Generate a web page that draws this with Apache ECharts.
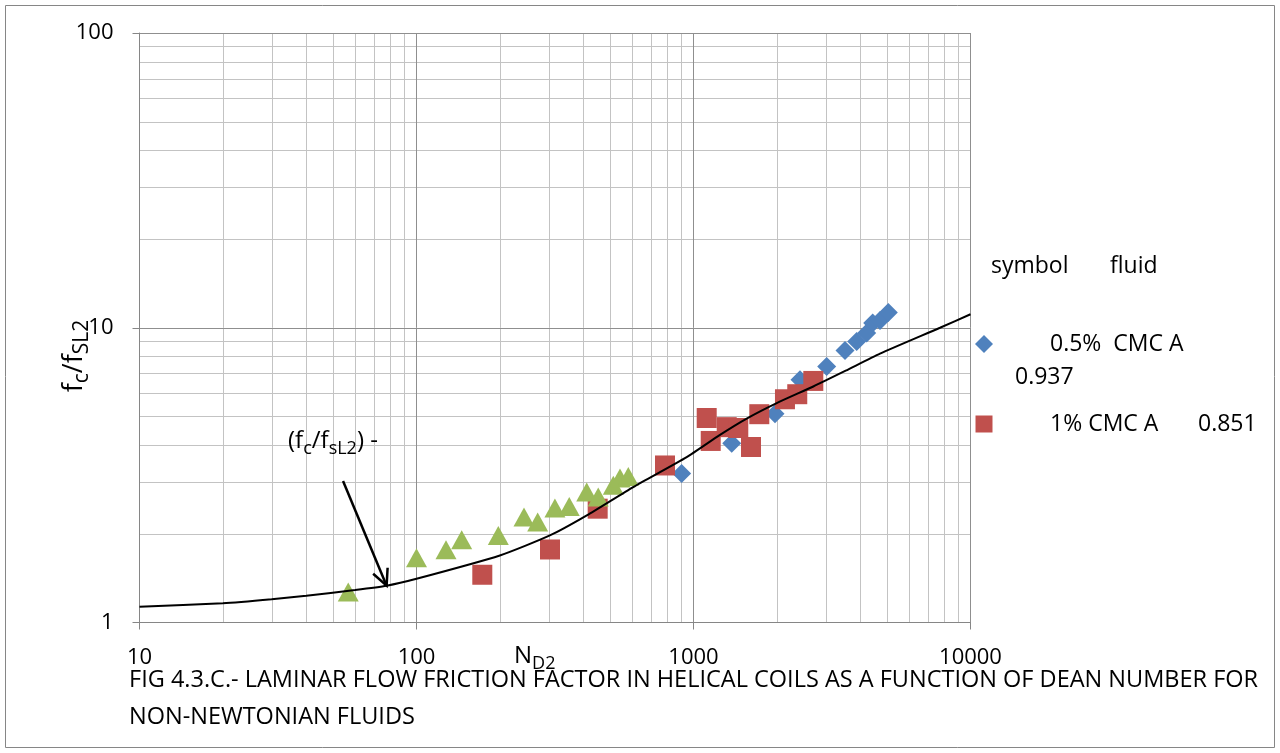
<!DOCTYPE html>
<html><head><meta charset="utf-8">
<script src="https://cdn.jsdelivr.net/npm/echarts@6/dist/echarts.min.js"></script>
<style>html,body{margin:0;padding:0;background:#fff}#c{width:1280px;height:753px}</style>
</head><body><div id="c"></div>
<script>
// ---- data ----
const xTickValues = [10, 100, 1000, 10000];
const yTickValues = [1, 10, 100];

// 0.5% CMC A (blue diamonds)
const cmc05X = [906, 1374, 1969, 2424, 3026, 3523, 3883, 4220, 4436, 4713, 5051];
const cmc05Y = [3.2, 4.06, 5.11, 6.66, 7.39, 8.37, 8.98, 9.60, 10.37, 10.59, 11.27];

// 1% CMC A (red squares)
const cmc1X = [172.8, 303.4, 450.9, 789, 1116, 1154, 1318, 1451, 1613, 1728, 2139, 2369, 2707];
const cmc1Y = [1.452, 1.769, 2.433, 3.41, 4.94, 4.13, 4.60, 4.57, 3.94, 5.09, 5.72, 5.95, 6.60];

// third fluid (green triangles)
const triX = [56.7, 100, 127.8, 145.6, 197.4, 244.4, 273.8, 316, 356, 411.6, 453, 513.5, 542.8, 581.6];
const triY = [1.27, 1.659, 1.765, 1.909, 1.974, 2.279, 2.191, 2.445, 2.477, 2.771, 2.664, 2.919, 3.095, 3.13];

// correlation curve (f_c/f_sL2)
const curveX = [10, 20, 30, 40, 60, 78, 100, 200, 303, 412, 606, 945, 1246, 1556, 1997, 2707, 3543, 4713, 7760, 10000];
const curveY = [1.132, 1.162, 1.199, 1.233, 1.289, 1.333, 1.407, 1.688, 1.974, 2.309, 2.881, 3.64, 4.33, 4.918, 5.55, 6.32, 7.15, 8.17, 10.0, 11.11];

// annotation arrow (data coords): from label to curve
const arrowFrom = [54.3, 3.02];
const arrowTo = [78, 1.333];

const titleLines = ['FIG 4.3.C.- LAMINAR FLOW FRICTION FACTOR IN HELICAL COILS AS A FUNCTION OF DEAN NUMBER FOR', 'NON-NEWTONIAN FLUIDS'];
const legendHeader = ['symbol', 'fluid'];
const legendA = ['0.5%  CMC A', '0.937'];
const legendB = ['1% CMC A', '0.851'];

const zip = (a, b) => a.map((v, i) => [v, b[i]]);
const FONT = '"Open Sans", sans-serif';
const AX = '#868686';

const chart = echarts.init(document.getElementById('c'), null, {renderer: 'canvas'});

const axisCommon = {
  type: 'log', logBase: 10,
  axisLine: {show: true, lineStyle: {color: AX, width: 1}},
  axisTick: {show: true, inside: false, length: 7, lineStyle: {color: AX}},
  splitLine: {show: true, lineStyle: {color: '#8f8f8f', width: 1}},
  minorTick: {show: false},
  minorSplitLine: {show: false},
  axisLabel: {color: '#000', fontSize: 22, fontFamily: FONT, formatter: v => String(Math.round(v))}
};

chart.setOption({
  animation: false,
  backgroundColor: '#fff',
  grid: {left: 139.5, right: 309.5, top: 33, bottom: 130.5, containLabel: false},
  xAxis: Object.assign({}, axisCommon, {min: 10, max: 10000,
    axisLabel: Object.assign({}, axisCommon.axisLabel, {margin: 24})}),
  yAxis: Object.assign({}, axisCommon, {min: 1, max: 100,
    axisLabel: Object.assign({}, axisCommon.axisLabel, {margin: 26})}),
  series: [
    {type: 'scatter', name: '0.5% CMC A', data: zip(cmc05X, cmc05Y), symbol: 'diamond', symbolSize: 19,
     itemStyle: {color: '#4F81BD', opacity: 1}, z: 2},
    {type: 'scatter', name: '1% CMC A', data: zip(cmc1X, cmc1Y), symbol: 'rect', symbolSize: 20,
     itemStyle: {color: '#C0504D', opacity: 1}, z: 3},
    {type: 'scatter', name: 'tri', data: zip(triX, triY), symbol: 'triangle', symbolSize: [21, 19],
     itemStyle: {color: '#9BBB59', opacity: 1}, z: 4},
    {type: 'line', name: 'curve', data: zip(curveX, curveY), smooth: 0.2, showSymbol: false, symbol: 'none',
     lineStyle: {color: '#000', width: 2}, z: 5}
  ]
});

function build() {
  const g = [];
  g.push({type: 'rect', shape: {x: 5.5, y: 5.5, width: 1269, height: 742}, style: {fill: null, stroke: AX, lineWidth: 1}, z: 0, silent: true});
  // minor log grid lines
  const p0 = chart.convertToPixel({gridIndex: 0}, [10, 1]);
  const p1 = chart.convertToPixel({gridIndex: 0}, [10000, 100]);
  for (let d = 0; d < xTickValues.length - 1; d++) {
    for (let m = 2; m <= 9; m++) {
      const px = chart.convertToPixel({gridIndex: 0}, [xTickValues[d] * m, 1])[0];
      g.push({type: 'line', shape: {x1: Math.round(px) + 0.5, y1: p1[1], x2: Math.round(px) + 0.5, y2: p0[1]},
        style: {stroke: '#c3c3c3', lineWidth: 1}, z: -1, silent: true});
    }
  }
  for (let d = 0; d < yTickValues.length - 1; d++) {
    for (let m = 2; m <= 9; m++) {
      const py = chart.convertToPixel({gridIndex: 0}, [10, yTickValues[d] * m])[1];
      g.push({type: 'line', shape: {x1: p0[0], y1: Math.round(py) + 0.5, x2: p1[0], y2: Math.round(py) + 0.5},
        style: {stroke: '#c3c3c3', lineWidth: 1}, z: -1, silent: true});
    }
  }
  // arrow
  const a = chart.convertToPixel({gridIndex: 0}, arrowFrom);
  const b = chart.convertToPixel({gridIndex: 0}, arrowTo);
  g.push({type: 'line', shape: {x1: a[0], y1: a[1], x2: b[0], y2: b[1]}, style: {stroke: '#000', lineWidth: 2.5}, z: 10});
  const ang = Math.atan2(b[1] - a[1], b[0] - a[0]);
  const L = 18, spread = 0.45;
  g.push({type: 'polyline', shape: {points: [
    [b[0] - L * Math.cos(ang - spread), b[1] - L * Math.sin(ang - spread)],
    [b[0], b[1]],
    [b[0] - L * Math.cos(ang + spread), b[1] - L * Math.sin(ang + spread)]
  ]}, style: {stroke: '#000', lineWidth: 2.5, fill: null}, z: 10});
  const mkRich = (n, s, lh) => ({
    n: {fontSize: n, fontFamily: FONT, color: '#000', lineHeight: lh, verticalAlign: 'middle'},
    s: {fontSize: s, fontFamily: FONT, color: '#000', lineHeight: lh, verticalAlign: 'bottom'}
  });
  // annotation label
  g.push({type: 'text', x: 288, y: 441, z: 10,
    style: {text: '{n|(f}{s|c}{n|/f}{s|sL2}{n|) -}', rich: mkRich(24, 18, 34), verticalAlign: 'middle', align: 'left'}});
  // y axis name
  g.push({type: 'text', x: 74, y: 356, rotation: Math.PI / 2, z: 10,
    style: {text: '{n|f}{s|c}{n|/f}{s|SL2}', rich: mkRich(27, 21, 38), align: 'center', verticalAlign: 'middle'}});
  // x axis name
  g.push({type: 'text', x: 514, y: 656, z: 10,
    style: {text: '{n|N}{s|D2}', rich: mkRich(24, 18, 34), align: 'left', verticalAlign: 'middle'}});
  // title
  const tt = {fontSize: 23.5, fontFamily: FONT, fill: '#000', align: 'left', verticalAlign: 'middle'};
  g.push({type: 'text', x: 129, y: 680, z: 10, style: Object.assign({text: titleLines[0]}, tt)});
  g.push({type: 'text', x: 129, y: 717, z: 10, style: Object.assign({text: titleLines[1]}, tt)});
  // legend
  const lt = {fontSize: 23, fontFamily: FONT, fill: '#000', verticalAlign: 'middle', align: 'left'};
  g.push({type: 'text', x: 991, y: 266, style: Object.assign({text: legendHeader[0]}, lt)});
  g.push({type: 'text', x: 1110, y: 266, style: Object.assign({text: legendHeader[1]}, lt)});
  g.push({type: 'polygon', shape: {points: [[984, 335], [993, 344], [984, 353], [975, 344]]}, style: {fill: '#4F81BD'}});
  g.push({type: 'text', x: 1050, y: 344, style: Object.assign({text: legendA[0]}, lt)});
  g.push({type: 'text', x: 1015, y: 377, style: Object.assign({text: legendA[1]}, lt)});
  g.push({type: 'rect', shape: {x: 975.5, y: 415.5, width: 17, height: 17}, style: {fill: '#C0504D'}});
  g.push({type: 'text', x: 1050, y: 424, style: Object.assign({text: legendB[0]}, lt)});
  g.push({type: 'text', x: 1198, y: 424, style: Object.assign({text: legendB[1]}, lt)});
  chart.setOption({graphic: {elements: g}});
}
build();
</script>
</body></html>
